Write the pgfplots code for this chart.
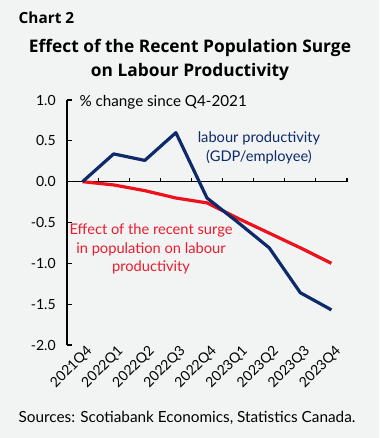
\documentclass[border=0pt]{standalone}
\usepackage{pgfplots}
\pgfplotsset{compat=1.18}
\usepackage{fontspec}
\setmainfont{Lato}
\newfontfamily\titlefont{Open Sans}
\usetikzlibrary{backgrounds}
\definecolor{bg}{HTML}{F2F4F4}
\definecolor{navy}{HTML}{0E2A6A}
\definecolor{sred}{HTML}{EC111A}
\definecolor{tred}{HTML}{EC1C2E}
\newcommand\PX[2]{({0.75pt*#1},{0.75pt*(438-#2)})}
\pgfplotstableread{
x blue red
0 0.00 0.00
1 0.34 -0.04
2 0.26 -0.11
3 0.60 -0.20
4 -0.20 -0.26
5 -0.50 -0.45
6 -0.81 -0.63
7 -1.36 -0.81
8 -1.57 -1.00
}\datatable
\begin{document}
\begin{tikzpicture}
\useasboundingbox (0,0) rectangle (284.25pt,328.5pt);
\begin{axis}[
  at={(50.25pt,69.75pt)}, anchor=south west,
  scale only axis, width=210pt, height=183.75pt,
  xmin=-0.5, xmax=8.5, ymin=-2, ymax=1,
  axis y line*=left, axis x line*=bottom,
  x axis line style={draw=none},
  y axis line style={line width=1.1pt, black},
  xtick={0,...,8},
  xticklabels={2021Q4,2022Q1,2022Q2,2022Q3,2022Q4,2023Q1,2023Q2,2023Q3,2023Q4},
  major x tick style={draw=none},
  xticklabel style={rotate=45, anchor=north east, font=\fontsize{10.5}{12}\selectfont, inner sep=1pt, xshift=3pt},
  ytick={-2,-1.5,...,1},
  yticklabels={-2.0,-1.5,-1.0,-0.5,0.0,0.5,1.0},
  yticklabel style={font=\fontsize{10.5}{12}\selectfont, xshift=-5pt},
  ytick align=inside, major tick length=3.5pt,
  major y tick style={line width=0.9pt, black},
  clip=false,
]
\draw[line width=1pt] (axis cs:-0.5,0) -- (axis cs:8.5,0);
\pgfplotsinvokeforeach{-0.5,0.5,1.5,2.5,3.5,4.5,5.5,6.5,7.5,8.5}{
  \draw[line width=0.9pt] (axis cs:#1,0) -- (axis cs:#1,0.05);
}
\addplot[sred, line width=2.4pt, line join=round] table[x=x,y=red] {\datatable};
\addplot[navy, line width=2.4pt, line join=round] table[x=x,y=blue] {\datatable};
\end{axis}
\node[anchor=west, font=\fontsize{11.4}{13}\selectfont, fill=bg, inner sep=1pt] at \PX{78}{102} {\% change since Q4-2021};
\node[align=center, text=navy, font=\fontsize{11}{13.8}\selectfont] at \PX{259}{148} {labour productivity\\(GDP/employee)};
\node[align=center, text=tred, font=\fontsize{11}{13.8}\selectfont] at \PX{151}{249} {Effect of the recent surge\\in population on labour\\productivity};
\node[anchor=west, font=\titlefont\bfseries\fontsize{11.5}{14}\selectfont] at \PX{14}{18} {Chart 2};
\node[align=center, font=\titlefont\bfseries\fontsize{13}{18.5}\selectfont] at \PX{190}{60} {Effect of the Recent Population Surge\\on Labour Productivity};
\node[font=\fontsize{11.5}{13}\selectfont] at \PX{187}{418} {Sources: Scotiabank Economics, Statistics Canada.};
\begin{scope}[on background layer]
\fill[bg] (0,0) rectangle (284.25pt,328.5pt);
\end{scope}
\end{tikzpicture}
\end{document}
